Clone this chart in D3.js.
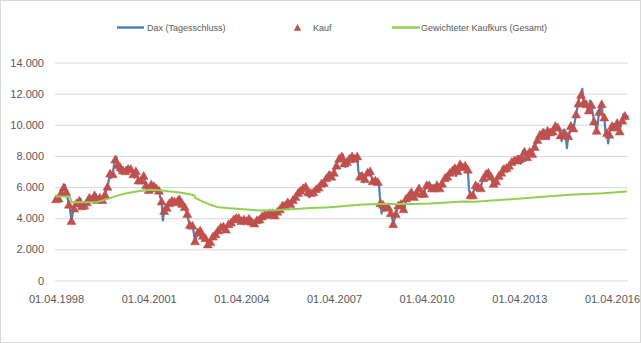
<!DOCTYPE html>
<html><head><meta charset="utf-8">
<script src="https://cdn.jsdelivr.net/npm/d3@7"></script>
<style>body{margin:0;background:#fff}svg{display:block}text{font-family:"Liberation Sans",Arial,sans-serif;fill:#595959}</style>
</head><body>
<script>
// ---- data ----
const startMonth = [1998, 3]; // April 1998 (0-based month)
// DAX level on purchase day (1st of month) = "Kauf"
const kauf = [
  5250,5300,5650,6000,5700,4900,3850,4650,5000,                      // 1998 Apr-Dec
  5150,4800,4850,5050,5350,5250,5500,5200,5350,5200,5550,6050,      // 1999
  6900,6850,7800,7450,7300,7100,7050,7200,7200,6850,7050,6450,      // 2000
  6450,6750,6150,5850,6200,6100,5950,5800,5100,4500,4700,5000,      // 2001
  5150,5100,5050,5250,4950,4750,4300,3600,3550,2550,3100,3250,      // 2002
  2900,2750,2350,2500,2850,3000,3250,3450,3500,3300,3650,3750,      // 2003
  3950,4050,4050,3850,3950,3850,4000,3800,3700,3900,3950,4150,      // 2004
  4250,4250,4350,4350,4200,4450,4600,4850,4850,5050,4950,5200,      // 2005
  5400,5650,5800,5950,6050,5700,5650,5700,5900,6000,6250,6300,      // 2006
  6600,6800,6700,6950,7400,7850,8000,7550,7650,7850,8000,7850,      // 2007
  8000,6700,6750,6550,6950,7050,6400,6450,6350,5000,4900,4700,      // 2008
  4750,4350,3650,4300,4850,4950,4600,5300,5450,5700,5400,5650,      // 2009
  5950,5600,5600,6150,6150,5950,5950,6150,5950,6250,6600,6700,      // 2010
  6950,7100,7250,7050,7500,7300,7400,7150,5500,5500,6150,6050,      // 2011
  5950,6600,6850,6950,6700,6250,6400,6750,6950,7200,7250,7400,      // 2012
  7650,7750,7750,7800,7900,8300,7950,8300,8150,8600,9050,9400,      // 2013
  9500,9300,9650,9550,9600,9950,9850,9350,9450,9400,9300,9950,      // 2014
  9800,10700,11400,11950,11450,11350,10950,11300,10250,9650,10850,11350, // 2015
  10500,9500,9400,9950,9850,10150,9600,10300,10600                  // 2016 Jan-Sep
];
// DAX level mid-month (15th)
const daxMid = [
  5350,5500,5750,6150,5300,4550,4300,4950,4750,
  5250,4750,4950,5250,5200,5150,5550,5150,5300,5050,5800,6400,
  6600,7400,7950,7000,7150,7150,7300,7100,6950,6600,6850,6400,
  6650,6400,5650,6050,6150,5950,5650,5350,3850,4750,5000,5050,
  5000,4900,5350,5100,5000,4450,3850,3400,3100,2750,3250,3050,
  2850,2550,2200,2800,2900,3250,3350,3300,3450,3450,3700,3850,
  4100,4100,3800,4000,3750,4000,3800,3600,3850,3850,4050,4200,
  4200,4350,4400,4150,4350,4550,4750,4950,4950,4850,5100,5300,
  5500,5850,5900,6050,5700,5350,5500,5850,5950,6200,6350,6450,
  6700,6950,6650,7250,7650,7850,8100,7300,7700,7950,7600,7950,
  7000,6900,6300,6700,7050,6700,6200,6500,6100,4300,4500,4700,
  4500,4100,3900,4500,4950,4950,4700,5300,5650,5650,5550,5800,
  5900,5400,5900,6250,5800,6100,6000,6200,6250,6500,6800,6950,
  7050,7300,6700,7200,7400,7200,7300,5800,5300,5900,5800,5800,
  6300,6750,7050,6650,6350,6150,6600,6950,7300,7250,7100,7550,
  7700,7650,8000,7500,8350,7900,8300,8400,8650,8800,9200,9100,
  9700,9600,9100,9350,9650,9900,9650,8950,9700,8500,9400,9650,
  10150,11050,11900,12300,11550,11050,11550,10800,10150,10050,11100,10450,
  9500,8800,9950,10050,9900,9700,10050,10700,10400
];
const daxLast = {date: "2016-10-07", value: 10600};
// Gewichteter Kaufkurs (Gesamt)
const avgDates = ["1998-03-25","1998-09-10","1998-10-01","1999-07-25","2000-01-01","2000-04-25","2000-08-25","2000-12-20",
  "2001-04-15","2001-08-15","2001-12-10","2002-04-05","2002-08-01","2002-09-25","2002-10-05","2003-01-01","2003-04-01",
  "2003-07-01","2003-10-15","2004-03-15","2004-11-05","2005-05-25","2006-01-01","2006-07-01","2007-01-01","2007-05-01",
  "2007-09-01","2008-03-10","2008-09-25","2009-10-20","2010-05-10","2010-11-25","2011-06-05","2011-10-20","2012-09-20",
  "2013-10-25","2014-11-20","2015-12-15","2016-09-25"];
const avgValues = [5390,5390,5030,5030,5290,5500,5650,5750,
  5820,5800,5710,5650,5540,5450,5300,5070,4860,
  4710,4650,4585,4500,4520,4585,4650,4690,4730,
  4795,4880,4920,4920,4940,5005,5070,5050,5180,
  5350,5500,5600,5710];
const yTicks = [0,2000,4000,6000,8000,10000,12000,14000];
const xTickDates = ["1998-04-01","2001-04-01","2004-04-01","2007-04-01","2010-04-01","2013-04-01","2016-04-01"];
const legendLabels = ["Dax (Tagesschluss)","Kauf","Gewichteter Kaufkurs (Gesamt)"];
const colors = {dax:"#4F81BD", kauf:"#C0504D", avg:"#92D050", grid:"#D9D9D9"};

// ---- build ----
const W = 641, H = 343;
const parse = d3.utcParse("%Y-%m-%d");
const monthDate = (i, day) => new Date(Date.UTC(startMonth[0], startMonth[1] + i, day));
const kaufPts = kauf.map((v, i) => ({date: monthDate(i, 1), value: v}));
const daxPts = [];
kauf.forEach((v, i) => { daxPts.push({date: monthDate(i, 1), value: v}); daxPts.push({date: monthDate(i, 15), value: daxMid[i]}); });
daxPts.push({date: parse(daxLast.date), value: daxLast.value});
const avgPts = avgDates.map((d, i) => ({date: parse(d), value: avgValues[i]}));

const x = d3.scaleUtc().domain([parse("1998-03-20"), parse("2016-10-07")]).range([55, 628]);
const y = d3.scaleLinear().domain([0, 14000]).range([280.5, 62.5]);
const loc = d3.formatLocale({decimal: ",", thousands: ".", grouping: [3], currency: ["", "€"]});
const fmt = loc.format(",d");
const dfmt = d3.utcFormat("%d.%m.%Y");

const svg = d3.select("body").append("svg").attr("width", W).attr("height", H);
svg.append("rect").attr("x", 0.5).attr("y", 0.5).attr("width", W - 1).attr("height", H - 1)
  .attr("fill", "#fff").attr("stroke", colors.grid);

// grid + y labels
const yAxis = d3.axisLeft(y).tickValues(yTicks).tickFormat(fmt).tickSize(-(628 - 55)).tickPadding(11);
const gy = svg.append("g").attr("transform", "translate(55,0)").call(yAxis);
gy.select(".domain").remove();
gy.selectAll("line").attr("stroke", colors.grid).attr("stroke-width", 1);
gy.selectAll("text").attr("font-size", 11).style("fill", "#595959").attr("font-family", "Liberation Sans, Arial, sans-serif");

// x labels
const xAxis = d3.axisBottom(x).tickValues(xTickDates.map(parse)).tickFormat(dfmt).tickSize(0).tickPadding(15);
const gx = svg.append("g").attr("transform", "translate(0,280.5)").call(xAxis);
gx.select(".domain").remove();
gx.selectAll("text").attr("font-size", 11).style("fill", "#595959").attr("font-family", "Liberation Sans, Arial, sans-serif");

// series
const line = d3.line().x(d => x(d.date)).y(d => y(d.value));
svg.append("path").datum(daxPts).attr("d", line).attr("fill", "none")
  .attr("stroke", colors.dax).attr("stroke-width", 2.25).attr("stroke-linejoin", "round");
const tri = "M0,-4L4.5,4L-4.5,4Z";
svg.append("g").selectAll("path").data(kaufPts).join("path")
  .attr("d", tri).attr("transform", d => `translate(${x(d.date)},${y(d.value)})`)
  .attr("fill", colors.kauf).attr("stroke", colors.kauf).attr("stroke-width", 0.5);
svg.append("path").datum(avgPts).attr("d", line).attr("fill", "none")
  .attr("stroke", colors.avg).attr("stroke-width", 2);

// legend
const lg = svg.append("g");
lg.append("line").attr("x1", 117).attr("x2", 144).attr("y1", 27.5).attr("y2", 27.5).attr("stroke", colors.dax).attr("stroke-width", 2.5);
lg.append("text").attr("x", 147).attr("y", 31).attr("font-size", 9).text(legendLabels[0]);
lg.append("path").attr("d", "M0,-3.5L3.8,3.3L-3.8,3.3Z").attr("transform", "translate(297.5,27.5)").attr("fill", colors.kauf);
lg.append("text").attr("x", 313).attr("y", 31).attr("font-size", 9).text(legendLabels[1]);
lg.append("line").attr("x1", 392).attr("x2", 420).attr("y1", 27.5).attr("y2", 27.5).attr("stroke", colors.avg).attr("stroke-width", 2.5);
lg.append("text").attr("x", 421).attr("y", 31).attr("font-size", 9).text(legendLabels[2]);
</script>
</body></html>
